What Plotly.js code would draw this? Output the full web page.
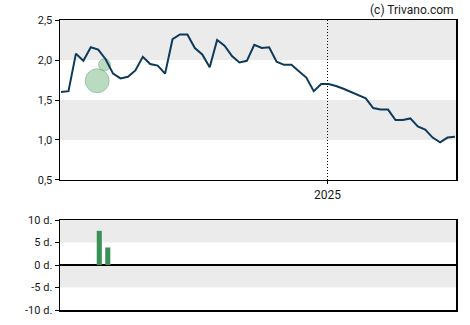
<!DOCTYPE html>
<html>
<head>
<meta charset="utf-8">
<script src="https://cdn.plot.ly/plotly-3.0.1.min.js"></script>
<style>html,body{margin:0;padding:0;background:#fff;}#chart{width:470px;height:325px;}</style>
</head>
<body>
<div id="chart"></div>
<script>
const dates = ['2024-04-25','2024-05-02','2024-05-09','2024-05-16','2024-05-23','2024-05-30','2024-06-06','2024-06-13','2024-06-20','2024-06-27',
'2024-07-04','2024-07-11','2024-07-18','2024-07-25','2024-08-01','2024-08-08','2024-08-15','2024-08-22','2024-08-29','2024-09-05',
'2024-09-12','2024-09-19','2024-09-26','2024-10-03','2024-10-10','2024-10-17','2024-10-24','2024-10-31','2024-11-07','2024-11-14',
'2024-11-21','2024-11-28','2024-12-05','2024-12-12','2024-12-19','2024-12-26','2025-01-02','2025-01-09','2025-01-16','2025-01-23',
'2025-01-30','2025-02-06','2025-02-13','2025-02-20','2025-02-27','2025-03-06','2025-03-13','2025-03-20','2025-03-27','2025-04-03',
'2025-04-10','2025-04-17','2025-04-24','2025-05-01'];
const prices = [1.60,1.61,2.08,1.99,2.16,2.13,2.01,1.83,1.77,1.79,
1.87,2.04,1.95,1.93,1.83,2.26,2.32,2.32,2.15,2.07,
1.91,2.25,2.18,2.05,1.97,1.99,2.19,2.15,2.16,1.98,
1.94,1.94,1.86,1.78,1.61,1.70,1.70,1.675,1.64,1.60,
1.57,1.52,1.40,1.38,1.38,1.25,1.25,1.27,1.17,1.13,
1.03,0.97,1.03,1.04];
const bubbleDates = ['2024-05-29','2024-06-05'];
const bubbleValues = [1.74,1.94];
const bubbleSizes = [24,12];
const barDates = ['2024-05-31','2024-06-08'];
const barValues = [7.6,3.9];
const yTicks = [0.5,1.0,1.5,2.0,2.5];
const dTickVals = [-10,-5,0,5,10];
const dTickText = ['-10 d.','-5 d.','0 d.','5 d.','10 d.'];

const xr = ['2024-04-24','2025-05-02'];
const band = 'rgb(235,235,235)';
const traces = [
  {x: bubbleDates, y: bubbleValues, type:'scatter', mode:'markers', xaxis:'x', yaxis:'y',
   marker:{size:bubbleSizes, color:'rgba(50,150,75,0.48)', line:{color:'rgba(50,145,70,0.55)', width:1}}, hoverinfo:'skip'},
  {x: dates, y: prices, type:'scatter', mode:'lines', xaxis:'x', yaxis:'y',
   line:{color:'#0e3a5a', width:2}},
  {x: barDates, y: barValues, type:'bar', xaxis:'x2', yaxis:'y2',
   marker:{color:'#3a9155'}, width:4.8*86400000}
];
const layout = {
  width:470, height:325,
  margin:{l:60, r:14, t:20, b:15},
  paper_bgcolor:'#fff', plot_bgcolor:'#fff',
  showlegend:false,
  separators:',.',
  font:{family:'Roboto, Arial, sans-serif', size:11, color:'#1a1a1a'},
  xaxis:{type:'date', range:xr, domain:[0,1], anchor:'y',
    tickvals:['2025-01-01'], ticktext:['2025'], ticks:'outside', ticklen:3, tickcolor:'#000',
    showgrid:true, gridcolor:'#000', griddash:'1px,2px', gridwidth:1,
    showline:true, linecolor:'#000', linewidth:1.5, mirror:true, zeroline:false, tickfont:{size:12}},
  yaxis:{domain:[0.4483,1], range:[0.5,2.5], anchor:'x', tickvals:yTicks, tickformat:'.1f',
    ticks:'outside', ticklen:4, tickcolor:'#000', showgrid:false, zeroline:false,
    showline:true, linecolor:'#000', linewidth:1.5, mirror:true, tickfont:{size:11}},
  xaxis2:{type:'date', range:xr, domain:[0,1], anchor:'y2', showticklabels:false, ticks:'',
    showgrid:false, showline:true, linecolor:'#000', linewidth:1.5, mirror:true, zeroline:false},
  yaxis2:{domain:[0,0.3103], range:[-10,10], anchor:'x2', tickvals:dTickVals, ticktext:dTickText,
    ticks:'outside', ticklen:4, tickcolor:'#000', showgrid:false,
    zeroline:true, zerolinecolor:'#000', zerolinewidth:1.5,
    showline:true, linecolor:'#000', linewidth:1.5, mirror:true, tickfont:{size:11}},
  shapes:[
    {type:'rect', xref:'x domain', yref:'y', x0:0, x1:1, y0:2.0, y1:2.5, fillcolor:band, line:{width:0}, layer:'below'},
    {type:'rect', xref:'x domain', yref:'y', x0:0, x1:1, y0:1.0, y1:1.5, fillcolor:band, line:{width:0}, layer:'below'},
    {type:'rect', xref:'x2 domain', yref:'y2', x0:0, x1:1, y0:5, y1:10, fillcolor:band, line:{width:0}, layer:'below'},
    {type:'rect', xref:'x2 domain', yref:'y2', x0:0, x1:1, y0:-5, y1:0, fillcolor:band, line:{width:0}, layer:'below'}
  ],
  annotations:[
    {text:'(c) Trivano.com', xref:'paper', yref:'paper', x:1, y:1, xanchor:'right', yanchor:'bottom', yshift:1,
     showarrow:false, font:{size:12, color:'#1a1a1a'}}
  ]
};
Plotly.newPlot('chart', traces, layout, {staticPlot:true, displayModeBar:false});
</script>
</body>
</html>
